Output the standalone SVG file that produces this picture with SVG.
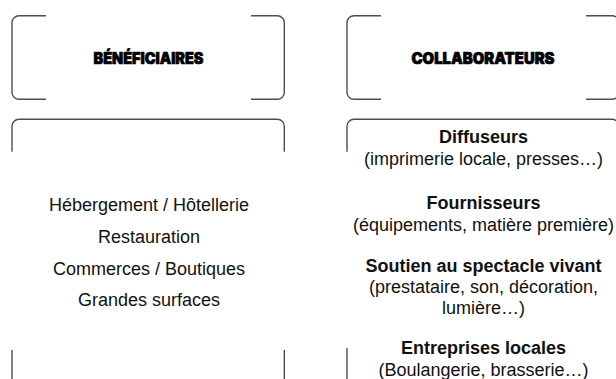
<svg xmlns="http://www.w3.org/2000/svg" width="616" height="379" viewBox="0 0 616 379">
  <style>
    .frame { fill: none; stroke: #4d4d4d; stroke-width: 1.4; stroke-linecap: butt; }
    .title { font-family: Inter, "Liberation Sans", sans-serif; font-weight: 900; font-size: 15.5px; fill: #000; stroke: #000; stroke-width: 0.7; stroke-linejoin: round; text-anchor: middle; }
    .item { font-family: "Liberation Sans", Arial, sans-serif; font-size: 18px; fill: #111; text-anchor: middle; }
    .item-b { font-family: "Liberation Sans", Arial, sans-serif; font-size: 18px; font-weight: bold; fill: #111; text-anchor: middle; }
  </style>

  <!-- Header: beneficiaries -->
  <g id="beneficiaires-header">
    <path class="frame" d="M46,15.7 H19 A7,7 0 0 0 12,22.7 V92.3 A7,7 0 0 0 19,99.3 H46"/>
    <path class="frame" d="M251,15.7 H277.3 A7,7 0 0 1 284.3,22.7 V92.3 A7,7 0 0 1 277.3,99.3 H251"/>
    <text class="title" x="148.5" y="63.5" textLength="110" lengthAdjust="spacingAndGlyphs">BÉNÉFICIAIRES</text>
  </g>

  <!-- Header: collaborators -->
  <g id="collaborateurs-header">
    <path class="frame" d="M381,15.7 H354 A7,7 0 0 0 347,22.7 V92.3 A7,7 0 0 0 354,99.3 H381"/>
    <path class="frame" d="M586,15.7 H612 A7,7 0 0 1 619,22.7 V92.3 A7,7 0 0 1 612,99.3 H586"/>
    <text class="title" x="483" y="63.5" textLength="143" lengthAdjust="spacingAndGlyphs">COLLABORATEURS</text>
  </g>

  <!-- Beneficiaries list -->
  <g id="beneficiaires-list">
    <path class="frame" d="M12,151.7 V126.3 A7,7 0 0 1 19,119.3 H277.3 A7,7 0 0 1 284.3,126.3 V151.7"/>
    <path class="frame" d="M12,350 V386"/>
    <path class="frame" d="M284.3,350 V386"/>
    <text class="item" x="149" y="211">Hébergement / Hôtellerie</text>
    <text class="item" x="149" y="243">Restauration</text>
    <text class="item" x="149" y="274.5">Commerces / Boutiques</text>
    <text class="item" x="149" y="306">Grandes surfaces</text>
  </g>

  <!-- Collaborators list -->
  <g id="collaborateurs-list">
    <path class="frame" d="M347,151.7 V126.3 A7,7 0 0 1 354,119.3 H612 A7,7 0 0 1 619,126.3 V151.7"/>
    <path class="frame" d="M347,348 V386"/>
    <text class="item-b" x="483.5" y="143">Diffuseurs</text>
    <text class="item" x="483.5" y="165">(imprimerie locale, presses…)</text>
    <text class="item-b" x="483.5" y="209">Fournisseurs</text>
    <text class="item" x="483.5" y="231">(équipements, matière première)</text>
    <text class="item-b" x="483.5" y="272">Soutien au spectacle vivant</text>
    <text class="item" x="483.5" y="293">(prestataire, son, décoration,</text>
    <text class="item" x="483.5" y="314">lumière…)</text>
    <text class="item-b" x="483.5" y="354">Entreprises locales</text>
    <text class="item" x="483.5" y="376">(Boulangerie, brasserie…)</text>
  </g>
</svg>
